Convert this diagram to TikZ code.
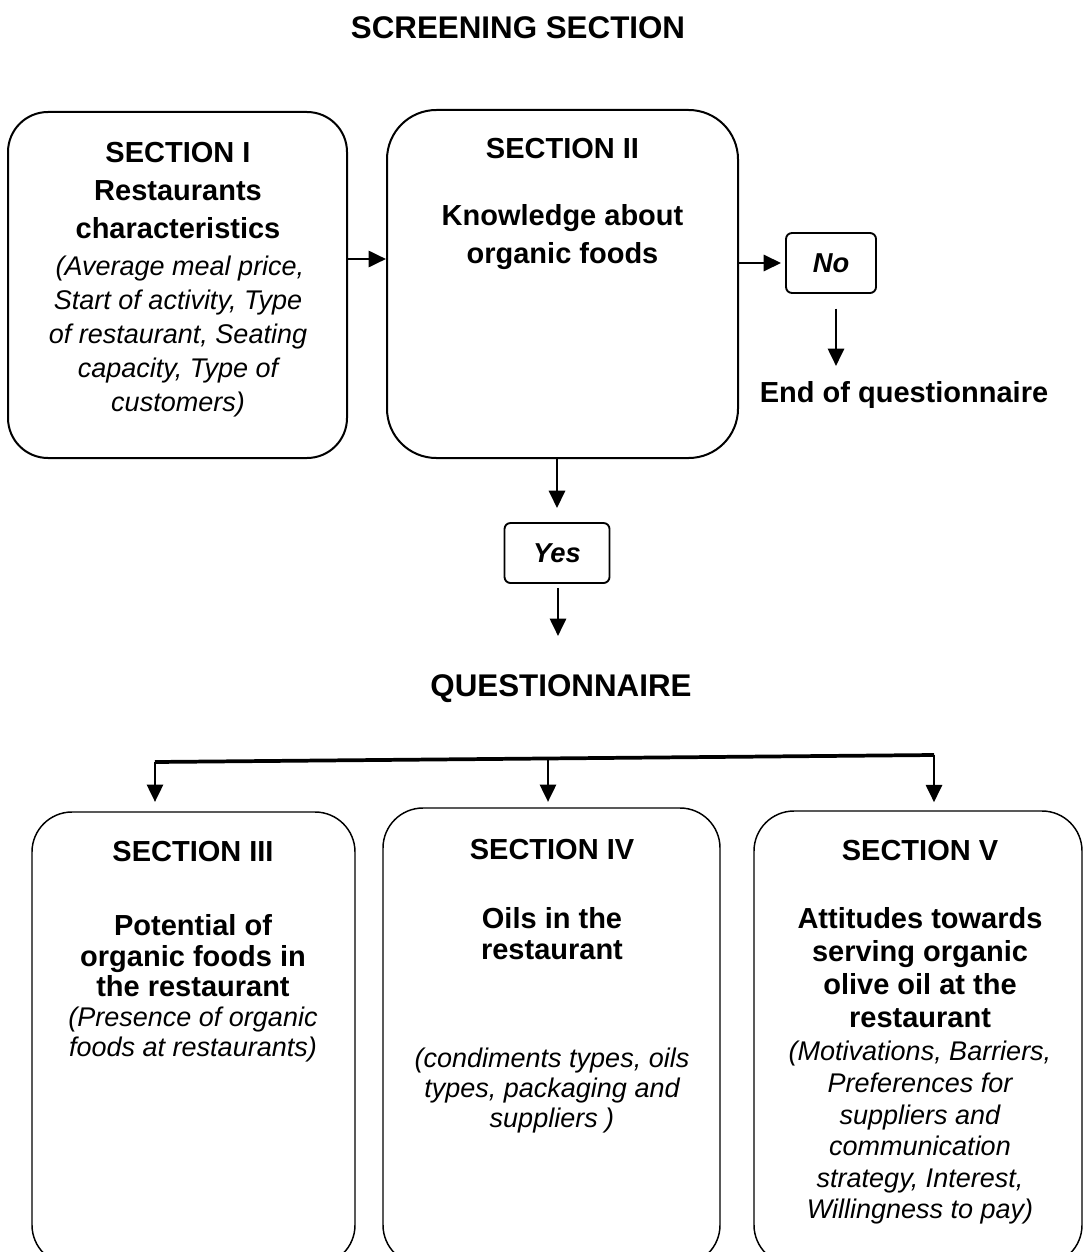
\documentclass[tikz,border=0pt]{standalone}
\usepackage{fontspec}
\setmainfont{Liberation Sans}
\usetikzlibrary{arrows.meta}
\begin{document}
\begin{tikzpicture}[x=0.75pt,y=-0.75pt,
  bigbox/.style={draw, line width=1.5pt, rounded corners=30pt, inner sep=0pt},
  lowbox/.style={draw, line width=1.1pt, rounded corners=30pt, inner sep=0pt},
  tag/.style={draw, line width=1.4pt, rounded corners=4.5pt, inner sep=0pt, minimum height=45pt,
    font=\bfseries\itshape\fontsize{20.5}{24}\selectfont},
  hd/.style={font=\bfseries\fontsize{21.75}{26}\selectfont, anchor=base, inner sep=0pt},
  sub/.style={font=\itshape\fontsize{20.25}{24}\selectfont, anchor=base, inner sep=0pt},
  ttl/.style={font=\bfseries\fontsize{23.5}{28}\selectfont, anchor=base, inner sep=0pt},
  arr/.style={line width=2.1pt, -{Triangle[length=13pt,width=12pt]}},
  bus/.style={line width=2.8pt}
]
\useasboundingbox (0,0) rectangle (1084,1252);
\clip (0,0) rectangle (1084,1252);

% titles
\node[ttl] (title) at (518,39) {SCREENING SECTION};
\node[ttl] (quest) at (561,696) {QUESTIONNAIRE};

% top boxes
\node[bigbox, minimum width=254.25pt, minimum height=259.5pt] (b1) at (177.5,285) {};
\node[bigbox, rounded corners=37pt, minimum width=263.25pt, minimum height=261pt] (b2) at (562.5,284) {};
\node[tag, minimum width=67.5pt] (no) at (831,263) {No};
\node[tag, minimum width=78.75pt] (yes) at (557,553) {Yes};
\node[hd] (endq) at (904,402) {End of questionnaire};

% section I text
\node[hd] (s1a) at (178,162.7) {SECTION I};
\node[hd] (s1b) at (178,200) {Restaurants};
\node[hd] (s1c) at (178,238) {characteristics};
\node[sub] (s1d) at (180,275) {(Average meal price,};
\node[sub] (s1e) at (178,309) {Start of activity, Type};
\node[sub] (s1f) at (178,343) {of restaurant, Seating};
\node[sub] (s1g) at (178,377) {capacity, Type of};
\node[sub] (s1h) at (178,411) {customers)};

% section II text
\node[hd] (s2a) at (562.5,159) {SECTION II};
\node[hd] (s2b) at (562.5,225) {Knowledge about};
\node[hd] (s2c) at (562.5,263) {organic foods};

% bottom boxes
\node[lowbox, minimum width=242.25pt, minimum height=339.75pt] (b3) at (193.5,1038.5) {};
\node[lowbox, minimum width=252.75pt, minimum height=342.75pt] (b4) at (551.5,1036.5) {};
\node[lowbox, minimum width=246pt, minimum height=340.5pt] (b5) at (918,1038) {};

% section III text
\node[hd] (s3a) at (193,861) {SECTION III};
\node[hd] (s3b) at (193,935) {Potential of};
\node[hd] (s3c) at (193,966) {organic foods in};
\node[hd] (s3d) at (193,996) {the restaurant};
\node[sub] (s3e) at (193,1026) {(Presence of organic};
\node[sub] (s3f) at (193,1056) {foods at restaurants)};

% section IV text
\node[hd] (s4a) at (552,859) {SECTION IV};
\node[hd] (s4b) at (552,928) {Oils in the};
\node[hd] (s4c) at (552,959) {restaurant};
\node[sub] (s4d) at (552,1067) {(condiments types, oils};
\node[sub] (s4e) at (552,1097) {types, packaging and};
\node[sub] (s4f) at (552,1127) {suppliers )};

% section V text
\node[hd] (s5a) at (920,860) {SECTION V};
\node[hd] (s5b) at (920,928) {Attitudes towards};
\node[hd] (s5c) at (920,961) {serving organic};
\node[hd] (s5d) at (920,994) {olive oil at the};
\node[hd] (s5e) at (920,1027) {restaurant};
\node[sub] (s5f) at (920,1060) {(Motivations, Barriers,};
\node[sub] (s5g) at (920,1092) {Preferences for};
\node[sub] (s5h) at (920,1124) {suppliers and};
\node[sub] (s5i) at (920,1155) {communication};
\node[sub] (s5j) at (920,1187) {strategy, Interest,};
\node[sub] (s5k) at (920,1218) {Willingness to pay)};

% connectors
\coordinate (arrI) at (0,259);
\coordinate (endtop) at (836,366);
\coordinate (qtop) at (558,636);
\coordinate (busL) at (155,762);
\coordinate (busM) at (548,758.5);
\coordinate (busR) at (934,755);

\draw[arr] (b1.east |- arrI) -- (b2.west |- arrI);
\draw[arr, shorten >=3pt] (b2.east |- no.west) -- (no.west);
\draw[arr, shorten <=11pt] (endtop |- no.south) -- (endtop);
\draw[arr, shorten >=10.5pt] (b2.south -| yes.north) -- (yes.north);
\draw[arr, shorten <=3pt] (yes.south -| qtop) -- (qtop);

\draw[bus] (busL) -- (busR);
\draw[arr, shorten >=7pt] (busL) -- (busL |- b3.north);
\draw[arr, shorten >=4pt] (busM) -- (busM |- b4.north);
\draw[arr, shorten >=6pt] (busR) -- (busR |- b5.north);
\end{tikzpicture}
\end{document}
